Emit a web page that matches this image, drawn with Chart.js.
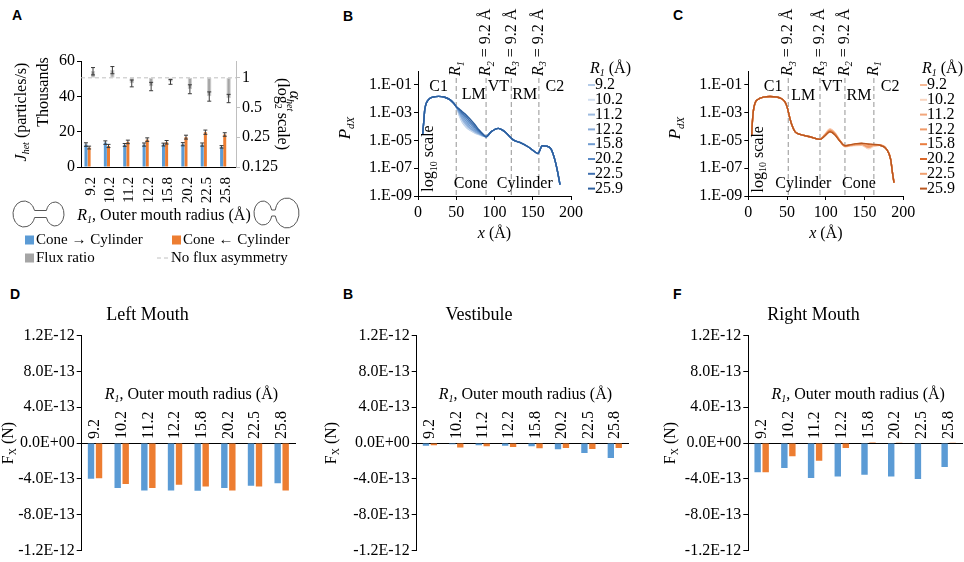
<!DOCTYPE html>
<html>
<head>
<meta charset="utf-8">
<script src="https://cdn.jsdelivr.net/npm/chart.js@4.4.0/dist/chart.umd.min.js"></script>
<style>
  body { margin: 0; background: #fff; width: 964px; height: 562px; position: relative; overflow: hidden; }
  .panel { position: absolute; }
  .tag { position: absolute; font: bold 14px "Liberation Sans", Arial, sans-serif; line-height: 14px; }
</style>
</head>
<body>
<div class="tag" style="left:12px;top:8px">A</div>
<div class="tag" style="left:343px;top:9px">B</div>
<div class="tag" style="left:673px;top:8px">C</div>
<div class="tag" style="left:10px;top:287px">D</div>
<div class="tag" style="left:343px;top:287px">B</div>
<div class="tag" style="left:673px;top:287px">F</div>

<div class="panel" style="left:0;top:0;width:320px;height:290px"><canvas id="cA"></canvas></div>
<div class="panel" style="left:330px;top:0;width:310px;height:250px"><canvas id="cB"></canvas></div>
<div class="panel" style="left:660px;top:0;width:304px;height:250px"><canvas id="cC"></canvas></div>
<div class="panel" style="left:0;top:290px;width:296px;height:272px"><canvas id="cD"></canvas></div>
<div class="panel" style="left:318px;top:290px;width:312px;height:272px"><canvas id="cE"></canvas></div>
<div class="panel" style="left:655px;top:290px;width:309px;height:272px"><canvas id="cF"></canvas></div>

<script>
// ---- data ----
const radii = ['9.2', '10.2', '11.2', '12.2', '15.8', '20.2', '22.5', '25.8']
const radiiLegend = ['9.2', '10.2', '11.2', '12.2', '15.8', '20.2', '22.5', '25.9']

// A: net flux (thousands of particles/s) and flux ratio
const fluxConeCyl = [12.7, 13.8, 12.5, 12.7, 12.7, 12.9, 12.7, 11.4]
const fluxCylCone = [11.0, 11.9, 14.2, 15.5, 14.0, 16.9, 19.7, 18.4]
const errConeCyl = [1.0, 1.0, 0.8, 0.9, 0.8, 0.9, 0.9, 0.7]
const errCylCone = [0.8, 0.9, 1.0, 1.0, 1.0, 1.1, 1.2, 1.0]
const fluxRatio = [1.17, 1.20, 0.88, 0.82, 0.91, 0.77, 0.65, 0.62]
const errRatio = [0.10, 0.10, 0.07, 0.08, 0.05, 0.08, 0.07, 0.06]
const ratioTicks = [0.125, 0.25, 0.5, 1]

// B: P_dX profiles, cone on the left
const xB = [6, 7.5, 8.8, 10.8, 14.6, 20, 27, 34, 41.7, 46.7, 50,
  54, 58, 63, 68, 74, 80, 85,
  89, 95.8, 105, 112.5, 118.8, 125, 133, 143.8, 154, 156.7, 162.5, 167.5, 174, 179, 182.5, 185.6]
const headB = [2.5e-5, 2.2e-4, 1.6e-3, 4.7e-3, 9.8e-3, 1.35e-2, 1.5e-2, 1.35e-2, 8.7e-3, 4.7e-3, 2.7e-3]
const lmB = [
  [6.0e-4, 2.0e-4, 8.9e-5, 5.4e-5, 3.55e-5, 2.6e-5, 2.04e-5],
  [7.1e-4, 2.4e-4, 1.05e-4, 6.0e-5, 3.8e-5, 2.7e-5, 2.1e-5],
  [8.3e-4, 3.0e-4, 1.26e-4, 6.9e-5, 4.2e-5, 2.8e-5, 2.14e-5],
  [1.0e-3, 4.0e-4, 1.66e-4, 8.3e-5, 4.8e-5, 3.1e-5, 2.2e-5],
  [1.2e-3, 5.6e-4, 2.4e-4, 1.12e-4, 6.0e-5, 3.5e-5, 2.3e-5],
  [1.41e-3, 7.6e-4, 3.55e-4, 1.66e-4, 7.9e-5, 4.0e-5, 2.4e-5],
  [1.66e-3, 9.5e-4, 5.0e-4, 2.4e-4, 1.05e-4, 4.7e-5, 2.6e-5],
  [1.86e-3, 1.17e-3, 6.8e-4, 3.5e-4, 1.45e-4, 5.6e-5, 2.9e-5]
]
const tailB = [1.86e-5, 4.3e-5, 7.4e-5, 4.7e-5, 2.2e-5, 1.05e-5, 7.2e-6, 3.5e-6, 1.35e-6, 1.15e-6,
  4.1e-6, 3.9e-6, 2.35e-6, 3.8e-7, 5.4e-8, 6.6e-9]

// C: P_dX profiles, cone on the right
const xC = [4.3, 5.2, 6.5, 8.6, 12.9, 19.4, 28, 36.6, 43, 47.3, 50.3, 52.9, 55.9, 60.2, 66.7, 79.6, 92.5,
  99, 105.4, 111.8, 118.3, 124.7, 135.5, 146, 155, 161,
  170, 178.5, 183.7, 186, 188]
const headC = [2.1e-5, 1.9e-4, 1.3e-3, 4.8e-3, 9.3e-3, 1.3e-2, 1.45e-2, 1.35e-2, 1.0e-2, 5.9e-3,
  2.3e-3, 5.8e-4, 1.45e-4, 4.3e-5, 2.75e-5, 1.86e-5, 1.2e-5]
const midC = [
  [2.82e-5, 6.6e-5, 3.55e-5, 1.0e-5, 3.55e-6, 4.2e-6, 4.5e-6, 2.8e-6, 4.0e-6],
  [2.69e-5, 6.3e-5, 3.4e-5, 1.0e-5, 3.8e-6, 4.5e-6, 5.0e-6, 2.5e-6, 3.55e-6],
  [2.63e-5, 5.75e-5, 3.16e-5, 9.5e-6, 4.0e-6, 4.8e-6, 5.25e-6, 3.16e-6, 4.2e-6],
  [2.51e-5, 5.4e-5, 3.0e-5, 9.5e-6, 4.0e-6, 5.0e-6, 5.6e-6, 3.55e-6, 4.5e-6],
  [2.34e-5, 4.8e-5, 2.75e-5, 9.1e-6, 4.0e-6, 5.0e-6, 5.9e-6, 5.0e-6, 5.0e-6],
  [2.24e-5, 4.4e-5, 2.63e-5, 8.9e-6, 4.2e-6, 5.25e-6, 6.0e-6, 5.25e-6, 5.0e-6],
  [2.29e-5, 4.6e-5, 2.69e-5, 8.9e-6, 4.0e-6, 5.0e-6, 5.75e-6, 4.5e-6, 4.8e-6],
  [2.19e-5, 4.2e-5, 2.51e-5, 8.7e-6, 4.2e-6, 5.4e-6, 6.3e-6, 5.6e-6, 5.25e-6]
]
const tailC = [4.5e-6, 2.3e-6, 4.4e-7, 4.8e-8, 9.1e-9]
const logTicks = [1e-9, 1e-7, 1e-5, 1e-3, 1e-1]
const xTicks = [0, 50, 100, 150, 200]

// D, E, F: axial force (N)
const leftConeCyl = [-4.0e-13, -5.04e-13, -5.3e-13, -5.3e-13, -5.34e-13, -5.04e-13, -4.78e-13, -4.51e-13]
const leftCylCone = [-3.95e-13, -4.59e-13, -5.04e-13, -4.66e-13, -4.85e-13, -5.3e-13, -4.85e-13, -5.3e-13]
const vestConeCyl = [-3.0e-14, -1.5e-14, -2.6e-14, -3.0e-14, -3.7e-14, -7.1e-14, -1.12e-13, -1.68e-13]
const vestCylCone = [-2.6e-14, -5.0e-14, -3.7e-14, -4.5e-14, -6.0e-14, -5.6e-14, -6.7e-14, -5.6e-14]
const rightConeCyl = [-3.28e-13, -2.8e-13, -3.92e-13, -3.73e-13, -3.54e-13, -3.73e-13, -4.03e-13, -2.69e-13]
const rightCylCone = [-3.28e-13, -1.49e-13, -1.98e-13, -5.6e-14, 1.0e-14, 2.0e-15, 5.0e-15, 8.0e-15]
const forceTicks = [-1.2e-12, -8e-13, -4e-13, 0, 4e-13, 8e-13, 1.2e-12]

// ---- helpers ----
const SERIF = "'Liberation Serif', 'Times New Roman', serif"
const BLUE = '#5b9bd5'
const ORANGE = '#ed7d31'
const blues = ['#b4cbe8', '#d2dff0', '#9dbbe0', '#87aad8', '#6f9bd0', '#5a8ac6', '#3f70b0', '#2c5f9e']
const oranges = ['#f5b995', '#f9d5c0', '#f2a77c', '#f09a68', '#ea7d3f', '#d9692b', '#f0a070', '#b8561f']

Chart.defaults.font.family = SERIF
Chart.defaults.font.size = 16
Chart.defaults.color = '#000'
const tickFont = () => ({ family: SERIF, size: 16, style: 'normal', weight: 'normal' })

function rich (ctx, parts, x, y, o) {
  o = o || {}
  const sz = o.sz || 16
  const fontOf = p => (p.i ? 'italic ' : 'normal ') + 'normal ' + (p.s ? Math.round(sz * 0.65) : sz) + 'px ' + SERIF
  let w = 0
  const widths = parts.map(p => { ctx.font = fontOf(p); const pw = ctx.measureText(p.t).width; w += pw; return pw })
  ctx.save()
  ctx.translate(x, y)
  if (o.rot) ctx.rotate(o.rot)
  let cx = o.align === 'left' ? 0 : o.align === 'right' ? -w : -w / 2
  ctx.textBaseline = 'middle'
  ctx.textAlign = 'left'
  ctx.fillStyle = o.color || '#000'
  parts.forEach((p, k) => {
    ctx.font = fontOf(p)
    ctx.fillText(p.t, cx, p.s ? sz * 0.3 : 0)
    cx += widths[k]
  })
  ctx.restore()
}

const R1_TITLE = [{ t: 'R', i: 1 }, { t: '1', i: 1, s: 1 }, { t: ', Outer mouth radius (Å)' }]

function fmtSci (v) {
  if (Math.abs(v) < 1e-20) return '0.0E+00'
  const parts = v.toExponential(1).split('e')
  const n = parseInt(parts[1], 10)
  return parts[0] + 'E' + (n < 0 ? '-' : '+') + String(Math.abs(n)).padStart(2, '0')
}
function fmtLog (v) {
  const n = Math.round(Math.log10(v))
  return '1.E' + (n < 0 ? '-' : '+') + String(Math.abs(n)).padStart(2, '0')
}

const errorBars = {
  id: 'errorBars',
  afterDatasetsDraw (chart) {
    const ctx = chart.ctx
    chart.data.datasets.forEach((ds, i) => {
      if (!ds.errors) return
      const meta = chart.getDatasetMeta(i)
      const ys = chart.scales[meta.yAxisID]
      meta.data.forEach((bar, j) => {
        const v = ds.tips ? ds.tips[j] : ds.data[j]
        const y1 = ys.getPixelForValue(v - ds.errors[j])
        const y2 = ys.getPixelForValue(v + ds.errors[j])
        ctx.save()
        ctx.strokeStyle = '#3a3a3a'
        ctx.lineWidth = 1
        ctx.beginPath()
        ctx.moveTo(bar.x, y1); ctx.lineTo(bar.x, y2)
        ctx.moveTo(bar.x - 2, y1); ctx.lineTo(bar.x + 2, y1)
        ctx.moveTo(bar.x - 2, y2); ctx.lineTo(bar.x + 2, y2)
        ctx.stroke()
        ctx.restore()
      })
    })
  }
}

function dumbbell (ctx, cx1, rx1, ry1, cx2, rx2, ry2, cy, h) {
  const t1 = Math.asin(h / ry1)
  const t2 = Math.asin(h / ry2)
  ctx.save()
  ctx.strokeStyle = '#555'
  ctx.lineWidth = 1
  ctx.beginPath()
  ctx.ellipse(cx1, cy, rx1, ry1, 0, -t1, t1, true)
  ctx.lineTo(cx2 - rx2 * Math.cos(t2), cy + h)
  ctx.ellipse(cx2, cy, rx2, ry2, 0, Math.PI - t2, Math.PI + t2, true)
  ctx.closePath()
  ctx.stroke()
  ctx.restore()
}

// ---- panel A ----
const panelA = {
  id: 'panelA',
  beforeDatasetsDraw (chart) {
    const { ctx, chartArea: a } = chart
    const y = chart.scales.y2.getPixelForValue(1)
    ctx.save()
    ctx.strokeStyle = '#c0c0c0'
    ctx.lineWidth = 1
    ctx.setLineDash([4, 3])
    ctx.beginPath(); ctx.moveTo(a.left, y); ctx.lineTo(a.right, y); ctx.stroke()
    ctx.restore()
  },
  afterDraw (chart) {
    const ctx = chart.ctx
    const ds = chart.data.datasets
    rich(ctx, [{ t: 'J', i: 1 }, { t: 'het', i: 1, s: 1 }, { t: ' (particles/s)' }], 22, 112, { rot: -Math.PI / 2 })
    rich(ctx, [{ t: 'Thousands' }], 44, 92, { rot: -Math.PI / 2 })
    rich(ctx, [{ t: 'α', i: 1 }, { t: 'het', i: 1, s: 1 }], 294, 101, { rot: Math.PI / 2 })
    rich(ctx, [{ t: '(log' }, { t: '2', s: 1 }, { t: ' scale)' }], 282, 114, { rot: Math.PI / 2 })
    rich(ctx, R1_TITLE, 164, 216)
    dumbbell(ctx, 24, 11, 13, 55, 9, 12, 214, 3.5)
    dumbbell(ctx, 263, 9, 12, 287, 12, 15, 213, 3)
    // legend
    const box = (color, x, y) => { ctx.fillStyle = color; ctx.fillRect(x, y - 4.5, 9, 9) }
    box(ds[0].backgroundColor, 25, 240); rich(ctx, [{ t: ds[0].label }], 36, 240, { sz: 15, align: 'left' })
    box(ds[1].backgroundColor, 172, 240); rich(ctx, [{ t: ds[1].label }], 183, 240, { sz: 15, align: 'left' })
    box(ds[2].backgroundColor, 25, 258); rich(ctx, [{ t: ds[2].label }], 36, 258, { sz: 15, align: 'left' })
    ctx.save(); ctx.strokeStyle = '#c0c0c0'; ctx.setLineDash([4, 3]); ctx.beginPath(); ctx.moveTo(157, 258); ctx.lineTo(170, 258); ctx.stroke(); ctx.restore()
    rich(ctx, [{ t: 'No flux asymmetry' }], 171, 258, { sz: 15, align: 'left' })
  }
}

new Chart(document.getElementById('cA'), {
  type: 'bar',
  data: {
    labels: radii,
    datasets: [
      { label: 'Cone → Cylinder', data: fluxConeCyl, errors: errConeCyl, backgroundColor: BLUE, xAxisID: 'x', yAxisID: 'y', barPercentage: 0.95, categoryPercentage: 0.65 },
      { label: 'Cone ← Cylinder', data: fluxCylCone, errors: errCylCone, backgroundColor: ORANGE, xAxisID: 'x', yAxisID: 'y', barPercentage: 0.95, categoryPercentage: 0.65 },
      { label: 'Flux ratio', data: fluxRatio.map(v => [1, v]), tips: fluxRatio, errors: errRatio, backgroundColor: '#a5a5a5', borderColor: '#cfcfcf', borderWidth: 1, borderSkipped: false, xAxisID: 'x2', yAxisID: 'y2', barPercentage: 0.95, categoryPercentage: 0.48 }
    ]
  },
  options: {
    responsive: true,
    maintainAspectRatio: false,
    animation: false,
    layout: { padding: { top: 61, left: 0, right: 0, bottom: 0 } },
    plugins: { legend: { display: false }, tooltip: { enabled: false } },
    scales: {
      x: {
        grid: { display: false },
        border: { color: '#000' },
        ticks: { font: { family: SERIF, size: 15 }, color: '#000', minRotation: 90, maxRotation: 90, autoSkip: false, padding: 2 },
        afterFit: s => { s.height = 123 }
      },
      x2: { display: false, offset: true },
      y: {
        min: 0,
        max: 60,
        ticks: { stepSize: 10, font: tickFont, color: '#000', padding: 2 },
        grid: { drawOnChartArea: false, tickLength: 4, color: '#000' },
        border: { color: '#000' },
        afterFit: s => { s.width = 81 }
      },
      y2: {
        type: 'logarithmic',
        position: 'right',
        min: 0.125,
        max: 1.48,
        afterBuildTicks: s => { s.ticks = ratioTicks.map(v => ({ value: v })) },
        ticks: { callback: v => String(v), font: tickFont, color: '#000', padding: 2 },
        grid: { drawOnChartArea: false, tickLength: 4, color: '#bfbfbf' },
        border: { color: '#bfbfbf' },
        afterFit: s => { s.width = 84 }
      }
    }
  },
  plugins: [panelA, errorBars]
})

// ---- panels B, C ----
function poreNotes (cfg) {
  return {
    id: 'poreNotes',
    beforeDatasetsDraw (chart) {
      const { ctx, chartArea: a, scales: { x } } = chart
      ctx.save()
      ctx.strokeStyle = '#a6a6a6'
      ctx.lineWidth = 1.2
      ctx.setLineDash([5, 3])
      cfg.bounds.forEach(b => {
        const px = x.getPixelForValue(b)
        ctx.beginPath(); ctx.moveTo(px, a.top + 7); ctx.lineTo(px, a.bottom); ctx.stroke()
      })
      ctx.restore()
    },
    afterDraw (chart) {
      const { ctx, chartArea: a, scales: { x, y } } = chart
      cfg.bounds.forEach((b, k) => rich(ctx, cfg.tops[k], x.getPixelForValue(b), a.top + 5, { rot: -Math.PI / 2, align: 'left' }))
      cfg.regions.forEach(r => rich(ctx, [{ t: r[0] }], x.getPixelForValue(r[1]), y.getPixelForValue(r[2])))
      rich(ctx, [{ t: 'log' }, { t: '10', s: 1 }, { t: ' scale' }], x.getPixelForValue(cfg.logAt[0]), y.getPixelForValue(cfg.logAt[1]), { rot: -Math.PI / 2 })
      rich(ctx, [{ t: 'P', i: 1 }, { t: 'dX', i: 1, s: 1 }], 16, 128, { rot: -Math.PI / 2, sz: 17 })
      rich(ctx, [{ t: 'x', i: 1 }, { t: ' (Å)' }], (a.left + a.right) / 2, 234)
      // legend
      rich(ctx, [{ t: 'R', i: 1 }, { t: '1', i: 1, s: 1 }, { t: ' (Å)' }], cfg.legX, 69, { align: 'left' })
      chart.data.datasets.forEach((ds, k) => {
        const yy = 85 + k * 14.8
        ctx.save()
        ctx.strokeStyle = ds.borderColor
        ctx.lineWidth = 2
        ctx.beginPath(); ctx.moveTo(cfg.legX - 2, yy); ctx.lineTo(cfg.legX + 5, yy); ctx.stroke()
        ctx.restore()
        rich(ctx, [{ t: ds.label }], cfg.legX + 5, yy, { align: 'left' })
      })
    }
  }
}

function poreChart (id, series, colors, padRight, yWidth, notes) {
  return new Chart(document.getElementById(id), {
    type: 'line',
    data: {
      datasets: series.map((s, k) => ({
        label: radiiLegend[k],
        data: s.xs.map((xv, i) => ({ x: xv, y: s.ys[i] })),
        borderColor: colors[k],
        borderWidth: 1.4,
        pointRadius: 0,
        cubicInterpolationMode: 'monotone',
        order: 7 - k
      }))
    },
    options: {
      responsive: true,
      maintainAspectRatio: false,
      animation: false,
      layout: { padding: { top: 71, right: padRight, left: 0, bottom: 0 } },
      plugins: { legend: { display: false }, tooltip: { enabled: false } },
      scales: {
        x: {
          type: 'linear',
          min: 0,
          max: 200,
          afterBuildTicks: s => { s.ticks = xTicks.map(v => ({ value: v })) },
          ticks: { font: tickFont, color: '#000', padding: 3 },
          grid: { drawOnChartArea: false, tickLength: 4, color: '#000' },
          border: { color: '#000' },
          afterFit: s => { s.height = 54 }
        },
        y: {
          type: 'logarithmic',
          min: 1e-9,
          max: 1,
          afterBuildTicks: s => { s.ticks = logTicks.map(v => ({ value: v })) },
          ticks: { callback: fmtLog, font: tickFont, color: '#000', padding: 2 },
          grid: { drawOnChartArea: false, tickLength: 4, color: '#000' },
          border: { color: '#000' },
          afterFit: s => { s.width = yWidth }
        }
      }
    },
    plugins: [notes]
  })
}

const seriesB = lmB.map(lm => ({ xs: xB, ys: headB.concat(lm, tailB) }))
const seriesC = midC.map(m => ({ xs: xC, ys: headC.concat(m, tailC) }))

const eqLabel = n => [{ t: 'R', i: 1 }, { t: n, i: 1, s: 1 }, { t: ' = 9.2 Å' }]
const r1Label = [{ t: 'R', i: 1 }, { t: '1', i: 1, s: 1 }]

poreChart('cB', seriesB, blues, 69, 88, poreNotes({
  bounds: [50, 89, 122, 158],
  tops: [r1Label, eqLabel('2'), eqLabel('3'), eqLabel('3')],
  regions: [['C1', 27, 0.075], ['LM', 73, 0.019], ['VT', 105, 0.075], ['RM', 139.6, 0.019], ['C2', 179, 0.075],
    ['Cone', 68.75, 8e-9], ['Cylinder', 139.6, 8e-9]],
  logAt: [14.6, 5e-7],
  legX: 260
}))

poreChart('cC', seriesC, oranges, 60.7, 88.3, poreNotes({
  bounds: [51.6, 92.5, 124.7, 162],
  tops: [eqLabel('3'), eqLabel('3'), eqLabel('2'), r1Label],
  regions: [['C1', 32, 0.075], ['LM', 71, 0.016], ['VT', 107.5, 0.075], ['RM', 142.8, 0.016], ['C2', 183, 0.075],
    ['Cylinder', 71, 7e-9], ['Cone', 142.8, 7e-9]],
  logAt: [12.9, 4.4e-7],
  legX: 262
}))

// ---- panels D, E, F ----
function forceNotes (titleX) {
  return {
    id: 'forceNotes',
    afterDraw (chart) {
      const { ctx, chartArea: a, scales: { x, y } } = chart
      const y0 = y.getPixelForValue(0)
      chart.data.labels.forEach((lab, i) => {
        rich(ctx, [{ t: lab }], x.getPixelForValue(i), y0 - 4, { rot: -Math.PI / 2, align: 'left' })
      })
      rich(ctx, R1_TITLE, (a.left + a.right) / 2 + 3, y.getPixelForValue(5.4e-13))
      rich(ctx, [{ t: 'F' }, { t: 'X', s: 1 }, { t: ' (N)' }], titleX, y0, { rot: -Math.PI / 2 })
    }
  }
}

function forceChart (id, title, blue, orange, padLeft, padRight, yWidth, titleX) {
  return new Chart(document.getElementById(id), {
    type: 'bar',
    data: {
      labels: radii,
      datasets: [
        { label: 'Cone → Cylinder', data: blue, backgroundColor: BLUE, barPercentage: 0.8, categoryPercentage: 0.6 },
        { label: 'Cone ← Cylinder', data: orange, backgroundColor: ORANGE, barPercentage: 0.8, categoryPercentage: 0.6 }
      ]
    },
    options: {
      responsive: true,
      maintainAspectRatio: false,
      animation: false,
      layout: { padding: { top: 0, left: padLeft, right: padRight, bottom: 11 } },
      plugins: {
        legend: { display: false },
        tooltip: { enabled: false },
        title: { display: true, text: title, color: '#000', font: { family: SERIF, size: 18, weight: 'normal' }, padding: { top: 14, bottom: 10 } }
      },
      scales: {
        x: {
          position: { y: 0 },
          grid: { display: false },
          ticks: { display: false },
          border: { color: '#000' },
          afterFit: s => { s.height = 0 }
        },
        y: {
          min: -1.2e-12,
          max: 1.2e-12,
          afterBuildTicks: s => { s.ticks = forceTicks.map(v => ({ value: v })) },
          ticks: { callback: fmtSci, font: tickFont, color: '#000', padding: 2 },
          grid: { drawOnChartArea: false, tickLength: 5, color: '#000' },
          border: { color: '#000' },
          afterFit: s => { s.width = yWidth }
        }
      }
    },
    plugins: [forceNotes(titleX)]
  })
}

forceChart('cD', 'Left Mouth', leftConeCyl, leftCylCone, 0, 1, 81.7, 9)
forceChart('cE', 'Vestibule', vestConeCyl, vestCylCone, 12, 2, 86.7, 14)
forceChart('cF', 'Right Mouth', rightConeCyl, rightCylCone, 10, 2, 83.3, 16)
</script>
</body>
</html>
